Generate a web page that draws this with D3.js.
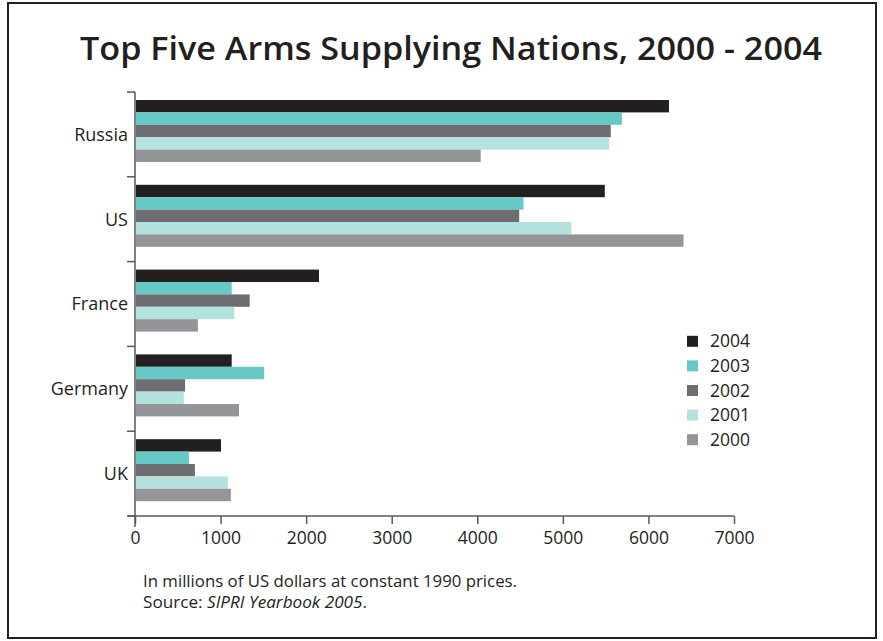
<!DOCTYPE html>
<html>
<head>
<meta charset="utf-8">
<script src="https://cdn.jsdelivr.net/npm/d3@7"></script>
<style>
  body { margin: 0; background: #fff; }
  svg text { font-family: "Open Sans", "DejaVu Sans", sans-serif; fill: #231f20; }
</style>
</head>
<body>
<div id="chart"></div>
<script>
// data (millions of US dollars, 1990 prices)
var countries = ['Russia', 'US', 'France', 'Germany', 'UK']
var years = ['2004', '2003', '2002', '2001', '2000']
var v2004 = [6240, 5490, 2150, 1130, 1005]
var v2003 = [5690, 4540, 1130, 1510, 630]
var v2002 = [5560, 4490, 1340, 585, 700]
var v2001 = [5540, 5100, 1160, 570, 1085]
var v2000 = [4040, 6410, 735, 1215, 1120]
var xTicks = [0, 1000, 2000, 3000, 4000, 5000, 6000, 7000]
var colors = ['#231f20', '#66c9c5', '#6d6e71', '#b3e2df', '#939598']

var series = [v2004, v2003, v2002, v2001, v2000]
var width = 883
var height = 641
var margin = { top: 92, right: 149, bottom: 125, left: 135 }

var svg = d3.select('#chart')
  .append('svg')
  .attr('width', width)
  .attr('height', height)

// frame
svg.append('rect')
  .attr('x', 8)
  .attr('y', 3)
  .attr('width', 868)
  .attr('height', 635)
  .style('fill', 'none')
  .style('stroke', '#231f20')
  .style('stroke-width', 2)

// title
svg.append('text')
  .attr('x', 451)
  .attr('y', 60)
  .attr('text-anchor', 'middle')
  .attr('textLength', 742)
  .attr('lengthAdjust', 'spacingAndGlyphs')
  .style('font-size', '33px')
  .style('font-weight', 600)
  .text('Top Five Arms Supplying Nations, 2000 - 2004')

var xScale = d3.scaleLinear()
  .domain([0, 7000])
  .range([margin.left, width - margin.right])

var yScale = d3.scaleBand()
  .domain(countries)
  .range([margin.top, height - margin.bottom])

var yInner = d3.scaleBand()
  .domain(years)
  .range([8, 70])

// bars
var rows = countries.map(function(c, i) {
  return { country: c, values: series.map(function(s, j) { return { year: years[j], value: s[i], color: colors[j] } }) }
})

var groups = svg.append('g')
  .selectAll('g')
  .data(rows)
  .join('g')
  .attr('transform', d => `translate(0,${yScale(d.country)})`)

groups.selectAll('rect')
  .data(d => d.values)
  .join('rect')
  .attr('x', xScale(0) + 1)
  .attr('y', d => yInner(d.year))
  .attr('width', d => xScale(d.value) - xScale(0) - 1)
  .attr('height', yInner.bandwidth())
  .style('fill', d => d.color)

// X axis
var xAxis = d3.axisBottom(xScale)
  .tickValues(xTicks)
  .tickSize(8)
  .tickSizeOuter(0)
  .tickPadding(8)
  .tickFormat(d3.format('d'))

var xg = svg.append('g')
  .attr('transform', `translate(0,${height - margin.bottom})`)
  .call(xAxis)
xg.select('.domain').remove()
xg.append('line')
  .attr('x1', xScale(0) - 7)
  .attr('x2', xScale(7000))
  .style('stroke', '#58595b')
  .style('stroke-width', 1.5)
xg.selectAll('.tick line')
  .style('stroke', '#58595b')
  .style('stroke-width', 1.5)
xg.selectAll('.tick text')
  .style('font-size', '17.5px')
  .style('fill', '#231f20')

// Y axis
var yg = svg.append('g')
yg.append('line')
  .attr('x1', xScale(0))
  .attr('x2', xScale(0))
  .attr('y1', margin.top)
  .attr('y2', height - margin.bottom + 11)
  .style('stroke', '#58595b')
  .style('stroke-width', 1.5)
yg.selectAll('.ytick')
  .data(countries.map(c => yScale(c)).concat([yScale.range()[1]]))
  .join('line')
  .attr('class', 'ytick')
  .attr('x1', xScale(0) - 8)
  .attr('x2', xScale(0))
  .attr('y1', d => d)
  .attr('y2', d => d)
  .style('stroke', '#58595b')
  .style('stroke-width', 1.5)
yg.selectAll('.ylabel')
  .data(countries)
  .join('text')
  .attr('class', 'ylabel')
  .attr('x', xScale(0) - 7)
  .attr('y', d => yScale(d) + yScale.bandwidth() / 2)
  .attr('dy', '0.35em')
  .attr('text-anchor', 'end')
  .style('font-size', '18px')
  .text(d => d)

// legend
var legendScale = d3.scaleBand()
  .domain(years)
  .range([329, 452])

var legend = svg.append('g')
  .selectAll('g')
  .data(years)
  .join('g')
  .attr('transform', d => `translate(687,${legendScale(d)})`)

legend.append('rect')
  .attr('y', (legendScale.bandwidth() - 11) / 2)
  .attr('width', 11)
  .attr('height', 11)
  .style('fill', (d, i) => colors[i])

legend.append('text')
  .attr('x', 23)
  .attr('y', legendScale.bandwidth() / 2)
  .attr('dy', '0.35em')
  .style('font-size', '17.5px')
  .text(d => d)

// footnote
svg.append('text')
  .attr('x', 143)
  .attr('y', 587)
  .attr('textLength', 374)
  .attr('lengthAdjust', 'spacingAndGlyphs')
  .style('font-size', '15.5px')
  .text('In millions of US dollars at constant 1990 prices.')
var note2 = svg.append('text')
  .attr('x', 143)
  .attr('y', 608)
  .attr('textLength', 224)
  .attr('lengthAdjust', 'spacingAndGlyphs')
  .style('font-size', '15.5px')
note2.append('tspan').text('Source: ')
note2.append('tspan').style('font-style', 'italic').text('SIPRI Yearbook 2005')
note2.append('tspan').text('.')
</script>
</body>
</html>
